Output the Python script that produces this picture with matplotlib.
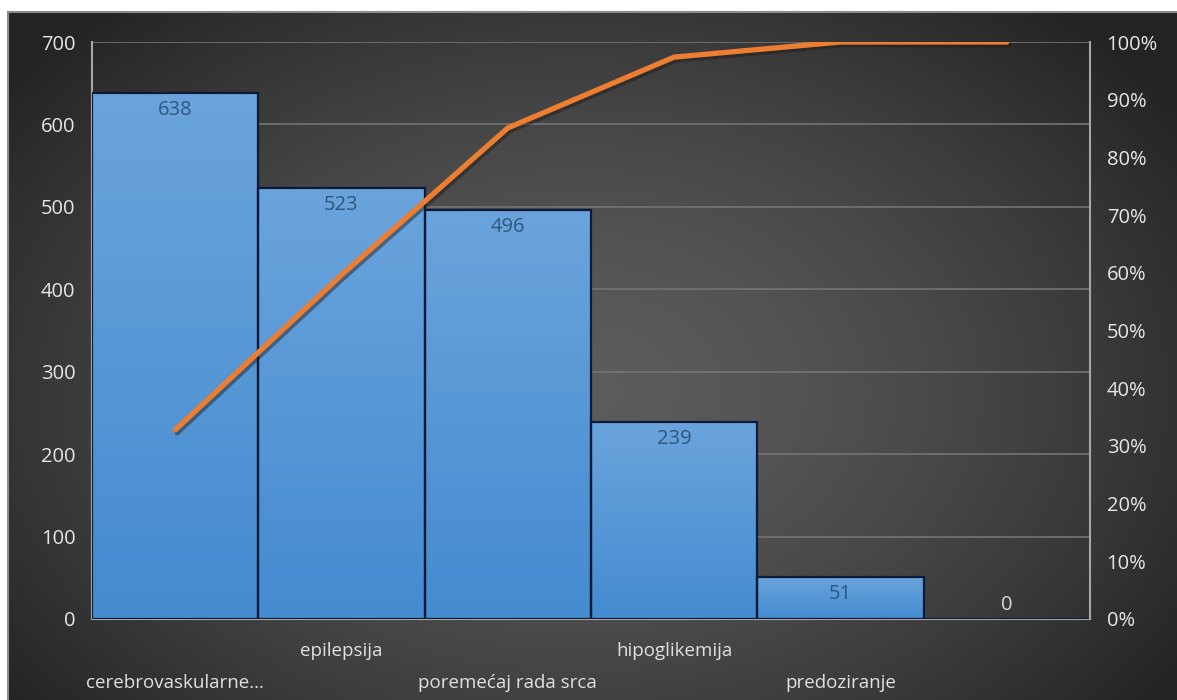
import numpy as np
import matplotlib.pyplot as plt
import matplotlib.patheffects as pe
from matplotlib.ticker import PercentFormatter, MultipleLocator

plt.rcParams['font.family'] = ['Open Sans', 'DejaVu Sans']

categories = ['cerebrovaskularne...', 'epilepsija', 'poremećaj rada srca',
              'hipoglikemija', 'predoziranje', '']
counts = [638, 523, 496, 239, 51, 0]

cum_share = np.cumsum(counts) / np.sum(counts)
x = np.arange(len(counts))

fig = plt.figure(figsize=(11.77, 7), dpi=100)
fig.patch.set_facecolor('white')

# dark radial backdrop behind the chart
bg = fig.add_axes([8 / 1177, 0, 1 - 8 / 1177, 1 - 12 / 700], zorder=-10)
gx, gy = np.meshgrid(np.linspace(-1, 1, 400), np.linspace(-1, 1, 300))
r = np.sqrt(((gx + 0.02) / 1.05) ** 2 + ((gy - 0.1) / 1.25) ** 2)
shade = np.clip(0.36 - 0.17 * r ** 1.5, 0.14, 0.36)
bg.imshow(np.dstack([shade] * 3), extent=[0, 1, 0, 1], aspect='auto')
bg.set_xlim(0, 1)
bg.set_ylim(0, 1)
bg.axis('off')
fig.add_artist(plt.Line2D([8 / 1177, 1], [1 - 12 / 700] * 2, color='#8c8c8c', lw=1.5))
fig.add_artist(plt.Line2D([8 / 1177] * 2, [0, 1 - 12 / 700], color='#8c8c8c', lw=1.5))

ax = fig.add_axes([92 / 1177, 81 / 700, (1090 - 92) / 1177, (619 - 42) / 700])
ax.set_facecolor('none')
ax.set_xlim(-0.5, len(counts) - 0.5)
ax.set_ylim(0, 700)
ax.yaxis.set_major_locator(MultipleLocator(100))
ax.grid(axis='y', color='#747474', lw=1.2, zorder=0)
ax.set_axisbelow(True)

# bars with a vertical blue gradient
grad = np.linspace(0, 1, 256).reshape(-1, 1)
top_c = np.array([0x6b, 0xa4, 0xdc]) / 255
bot_c = np.array([0x44, 0x8b, 0xd0]) / 255
grad_img = top_c * (1 - grad[..., None]) + bot_c * grad[..., None]
bars = ax.bar(x, counts, width=1.0, color='none', edgecolor='#0c1a3a', lw=1.6, zorder=3)
for b, v in zip(bars, counts):
    if v <= 0:
        continue
    x0 = b.get_x()
    ax.imshow(grad_img, extent=[x0, x0 + b.get_width(), 0, v], aspect='auto',
              zorder=2, interpolation='bilinear')
ax.set_xlim(-0.5, len(counts) - 0.5)
ax.set_ylim(0, 700)

for xi, v in zip(x, counts):
    if v > 0:
        ax.annotate(str(v), (xi, v), xytext=(0, -5), textcoords='offset points',
                    ha='center', va='top', fontsize=14.5, color='#2d577f', zorder=6)
    else:
        ax.annotate(str(v), (xi, v), xytext=(0, 3), textcoords='offset points',
                    ha='center', va='bottom', fontsize=14.5, color='#d9d9d9', zorder=6)

ax.set_xticks(x)
ax.set_xticklabels([])
ax.tick_params(axis='x', length=0)
for i, name in enumerate(categories):
    dy = -23 if i % 2 else -46
    ax.annotate(name, (i, 0), xycoords=('data', 'axes fraction'), xytext=(0, dy),
                textcoords='offset points', ha='center', va='center',
                fontsize=13.5, color='#e0e0e0', annotation_clip=False)

ax.tick_params(axis='y', length=0, pad=12, labelsize=14.5, labelcolor='#e6e6e6')
for side in ['left', 'bottom']:
    ax.spines[side].set_color('#a6a6a6')
    ax.spines[side].set_linewidth(1.5)
ax.spines['top'].set_visible(False)
ax.spines['right'].set_visible(False)

ax2 = ax.twinx()
ax2.set_ylim(0, 1)
ax2.yaxis.set_major_locator(MultipleLocator(0.1))
ax2.yaxis.set_major_formatter(PercentFormatter(1.0, decimals=0))
ax2.tick_params(axis='y', length=0, pad=12, labelsize=14.5, labelcolor='#e6e6e6')
ax2.spines['right'].set_color('#a6a6a6')
ax2.spines['right'].set_linewidth(1.5)
for side in ['left', 'top', 'bottom']:
    ax2.spines[side].set_visible(False)

ax2.plot(x, cum_share, color='#ed7d31', lw=3.8, solid_capstyle='round', zorder=5,
         path_effects=[pe.SimpleLineShadow(offset=(1.5, -2), shadow_color='#1a1a1a', alpha=0.45),
                       pe.Normal()])

fig.savefig('out.png', dpi=100)
